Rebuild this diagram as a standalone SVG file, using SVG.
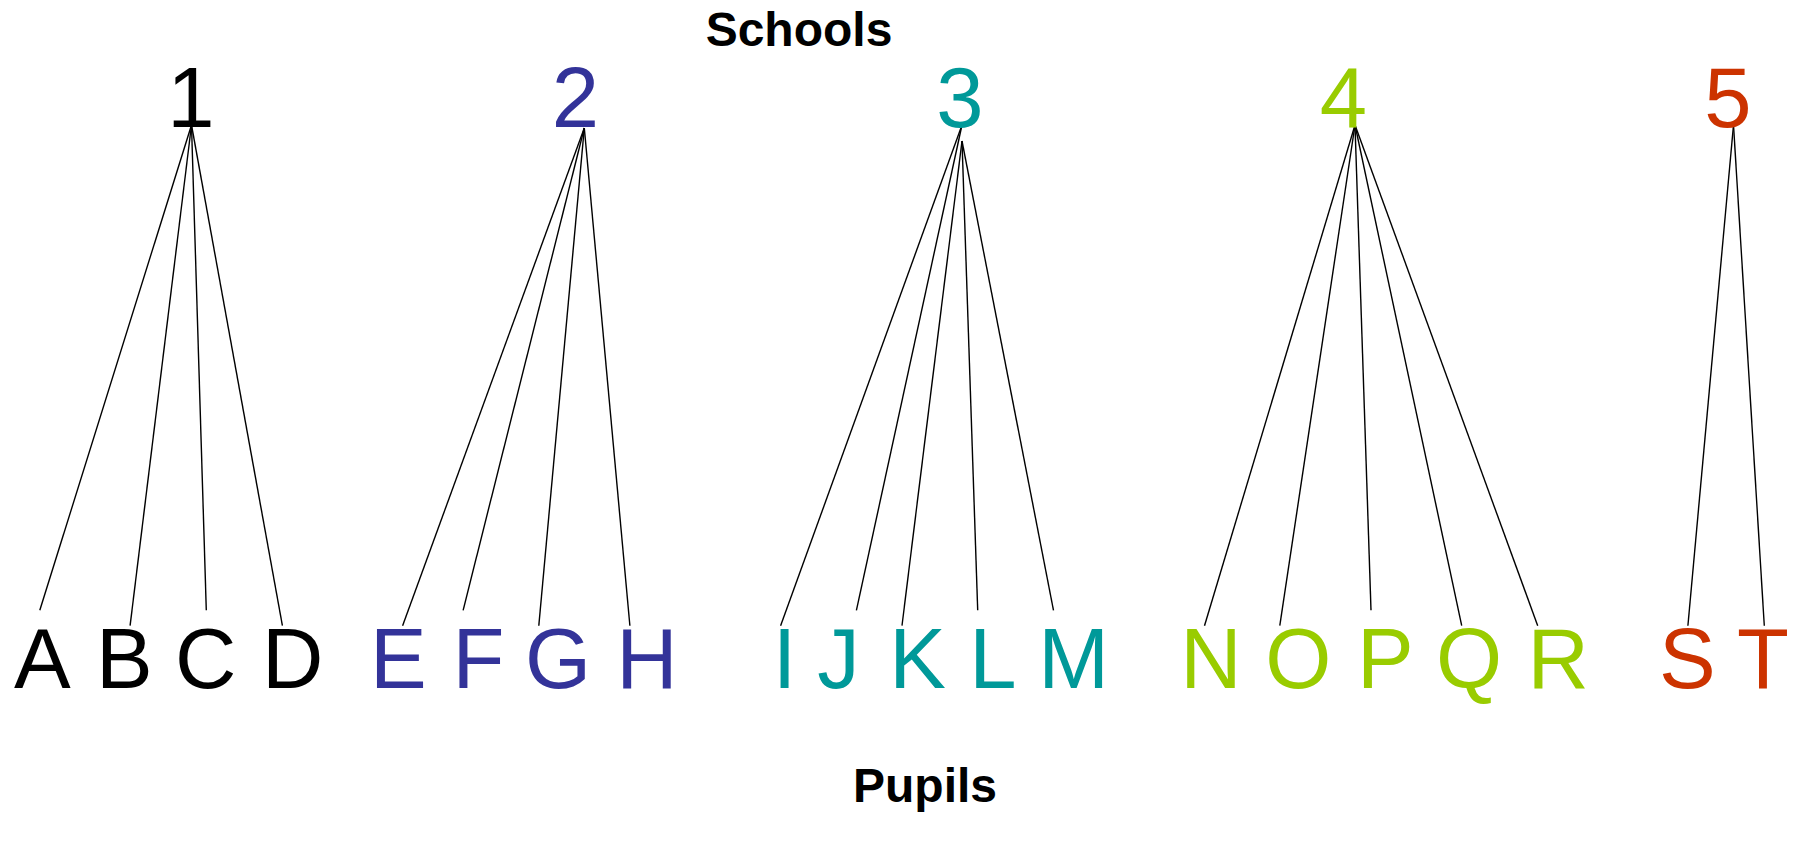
<svg xmlns="http://www.w3.org/2000/svg" width="1793" height="844" viewBox="0 0 1793 844">
<style>
.t{font-family:"Liberation Sans",Arial,sans-serif;font-weight:bold;font-size:48px;text-anchor:middle;fill:#000}
.n{font-family:"Liberation Sans",Arial,sans-serif;font-size:85px;text-anchor:middle}
.c1{fill:#000}.c2{fill:#333399}.c3{fill:#009999}.c4{fill:#99CC00}.c5{fill:#CC3300}
#connectors line{stroke:#000;stroke-width:1.4;fill:none}
</style>
<rect width="1793" height="844" fill="#fff"/>
<text class="t" x="799" y="46">Schools</text>
<text class="t" x="925" y="802">Pupils</text>
<g id="connectors">
<line x1="191.5" y1="125" x2="39.8" y2="610.3"/>
<line x1="191.5" y1="125" x2="130.1" y2="625.7"/>
<line x1="191.5" y1="125" x2="206.3" y2="610.3"/>
<line x1="191.5" y1="125" x2="282.4" y2="625.7"/>
<line x1="584.3" y1="128" x2="402.6" y2="625.7"/>
<line x1="584.3" y1="128" x2="463.1" y2="610.3"/>
<line x1="584.3" y1="128" x2="538.8" y2="625.7"/>
<line x1="584.3" y1="128" x2="629.9" y2="625.7"/>
<line x1="962" y1="125" x2="780.6" y2="625.7"/>
<line x1="962" y1="125" x2="856.4" y2="610.3"/>
<line x1="962" y1="141" x2="902" y2="625.7"/>
<line x1="962" y1="141" x2="977.7" y2="610.3"/>
<line x1="962" y1="141" x2="1053.5" y2="610.3"/>
<line x1="1355" y1="125" x2="1204.5" y2="625.7"/>
<line x1="1355" y1="125" x2="1279.8" y2="625.7"/>
<line x1="1355" y1="125" x2="1371" y2="610.3"/>
<line x1="1355" y1="125" x2="1461.7" y2="625.7"/>
<line x1="1355" y1="125" x2="1537.7" y2="625.7"/>
<line x1="1733.5" y1="125" x2="1687.9" y2="625.7"/>
<line x1="1733.5" y1="125" x2="1764.3" y2="625.7"/>
</g>
<g id="school1"><text class="n c1" x="191" y="127">1</text></g>
<g id="school2"><text class="n c2" x="575.5" y="127">2</text></g>
<g id="school3"><text class="n c3" x="960" y="127">3</text></g>
<g id="school4"><text class="n c4" x="1343.5" y="127">4</text></g>
<g id="school5"><text class="n c5" x="1728" y="127">5</text></g>
<g id="pupilA"><text class="n c1" x="42.3" y="688">A</text></g>
<g id="pupilB"><text class="n c1" x="124.4" y="688">B</text></g>
<g id="pupilC"><text class="n c1" x="205.7" y="688">C</text></g>
<g id="pupilD"><text class="n c1" x="292.6" y="688">D</text></g>
<g id="pupilE"><text class="n c2" x="398.4" y="688">E</text></g>
<g id="pupilF"><text class="n c2" x="478.4" y="688">F</text></g>
<g id="pupilG"><text class="n c2" x="558" y="688">G</text></g>
<g id="pupilH"><text class="n c2" x="647" y="688">H</text></g>
<g id="pupilI"><text class="n c3" x="784.6" y="688">I</text></g>
<g id="pupilJ"><text class="n c3" x="838.6" y="688">J</text></g>
<g id="pupilK"><text class="n c3" x="917.6" y="688">K</text></g>
<g id="pupilL"><text class="n c3" x="992.8" y="688">L</text></g>
<g id="pupilM"><text class="n c3" x="1073.6" y="688">M</text></g>
<g id="pupilN"><text class="n c4" x="1211" y="688">N</text></g>
<g id="pupilO"><text class="n c4" x="1298.4" y="688">O</text></g>
<g id="pupilP"><text class="n c4" x="1385.3" y="688">P</text></g>
<g id="pupilQ"><text class="n c4" x="1469" y="688">Q</text></g>
<g id="pupilR"><text class="n c4" x="1558.3" y="688">R</text></g>
<g id="pupilS"><text class="n c5" x="1687.4" y="688">S</text></g>
<g id="pupilT"><text class="n c5" x="1763" y="688">T</text></g>
</svg>
